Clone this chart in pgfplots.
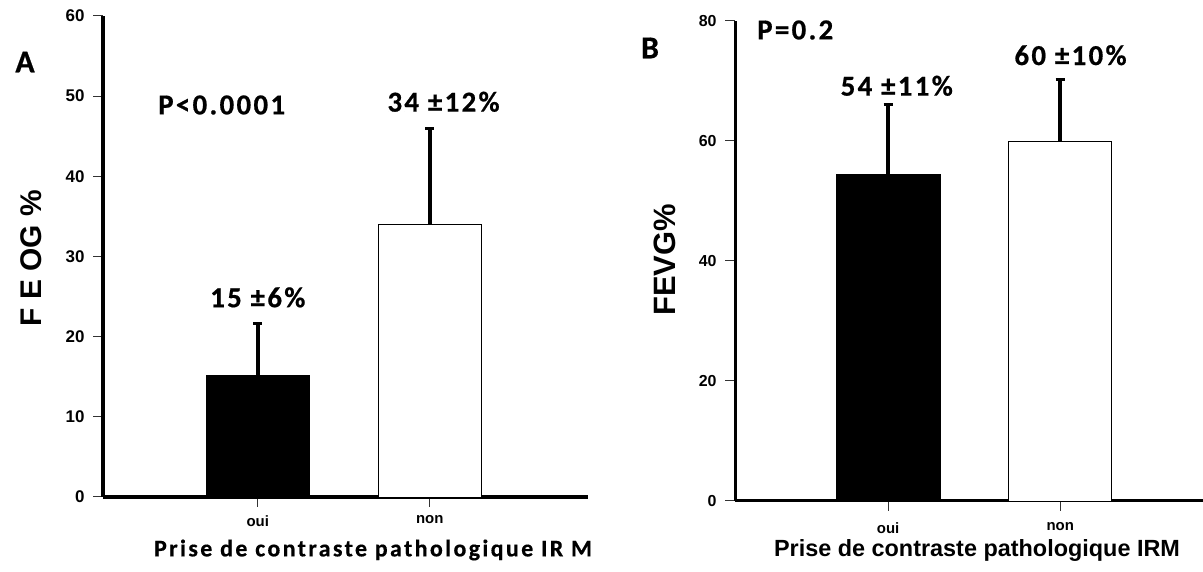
\documentclass[border=0pt]{standalone}
\usepackage{fontspec}
\setmainfont{Liberation Sans}
\newfontfamily\calib{Carlito-Bold}[Extension=.ttf, LetterSpace=8, FakeBold=0.6]
\newfontfamily\calibsp{Carlito-Bold}[Extension=.ttf, LetterSpace=10, FakeBold=0.5]
\newfontfamily\calibl{Carlito-Bold}[Extension=.ttf, FakeBold=0.6]
\usepackage{pgfplots}
\pgfplotsset{compat=1.18}
\newcommand{\fs}[1]{\fontsize{#1}{#1}\selectfont}
\pgfplotsset{
  myax/.style={
    scale only axis,
    axis x line=bottom, axis y line=left,
    axis line style={line width=3.5bp, black, -},
    tick align=outside,
    major tick length=10bp,
    tick style={line width=1bp, black!80},
    xtick={0,1}, xticklabels={oui,non},
    /pgf/number format/assume math mode=true,
    clip=false,
  },
  barblack/.style={ybar, bar width=0.6, bar shift=0pt, fill=black, draw=black,
    error bars/.cd, y dir=plus, y explicit,
    error bar style={line width=3.5bp, black},
    error mark options={rotate=90, line width=3bp, mark size=4.5bp, black}},
  barwhite/.style={ybar, bar width=0.6, bar shift=0pt, fill=white, draw=black, line width=0.8bp,
    error bars/.cd, y dir=plus, y explicit,
    error bar style={line width=3.5bp, black},
    error mark options={rotate=90, line width=3bp, mark size=4.5bp, black}},
}
\begin{document}
\begin{tikzpicture}[x=1bp,y=1bp]
\useasboundingbox (0,0) rectangle (1203,572);
% Panel A
\begin{axis}[myax,
  at={(103bp,75bp)}, anchor=south west,
  width=485bp, height=481bp,
  xmin=-0.9, xmax=1.92, ymin=0, ymax=60,
  ytick={0,10,...,60},
  yticklabel style={font=\bfseries\fs{17}, xshift=-5bp},
  xticklabel style={font=\bfseries\fs{15}, yshift=-5bp},
]
\addplot[barblack] coordinates {(0,15.2) +- (0,6.5)};
\addplot[barwhite] coordinates {(1,34) +- (0,12)};
\node[font=\calib\fs{29}] at (axis cs:-0.21,48.9) {P<0.0001};
\node[font=\calib\fs{29}] at (axis cs:0,24.9) {15 ±6\%};
\node[font=\calib\fs{29}] at (axis cs:1.08,49.3) {34 ±12\%};
\end{axis}
% Panel B
\begin{axis}[myax,
  at={(735bp,71bp)}, anchor=south west,
  width=468bp, height=480bp,
  xmin=-0.89, xmax=1.83, ymin=0, ymax=80,
  ytick={0,20,...,80},
  axis line style={line width=3bp, black, -},
  yticklabel style={font=\bfseries\fs{16}, xshift=-5bp},
  xticklabel style={font=\bfseries\fs{15}, yshift=-8bp},
]
\addplot[barblack] coordinates {(0,54.4) +- (0,11.7)};
\addplot[barwhite] coordinates {(1,60) +- (0,10.3)};
\node[font=\calib\fs{29}] at (axis cs:-0.54,78.5) {P=0.2};
\node[font=\calib\fs{29}] at (axis cs:0.05,69.2) {54 ±11\%};
\node[font=\calib\fs{29}] at (axis cs:1.06,74.3) {60 ±10\%};
\end{axis}
% Panel letters and axis titles
\node[font=\calibl\fs{32}] at (25,510) {A};
\node[font=\calibl\fs{32}] at (650,524) {B};
\node[rotate=90, font=\bfseries\fs{30}] at (31,314) {F E OG \%};
\node[rotate=90, font=\bfseries\fs{31}] at (665,312) {FEVG\%};
\node[font=\calibsp\fs{24}] at (373,22) {Prise de contraste pathologique IR M};
\node[font=\bfseries\fs{23.5}] at (977,21) {Prise de contraste pathologique IRM};
\end{tikzpicture}
\end{document}
